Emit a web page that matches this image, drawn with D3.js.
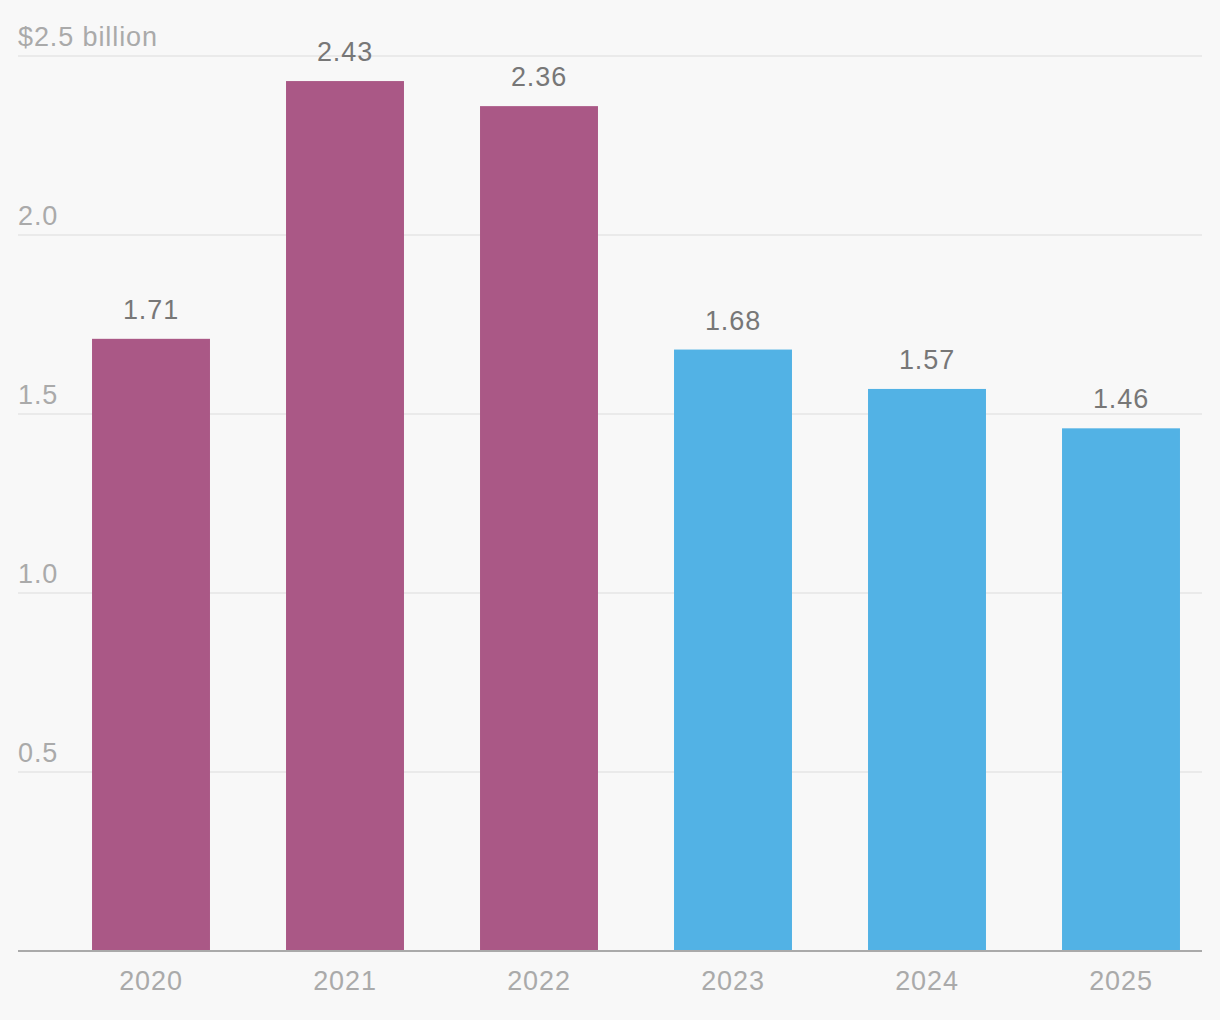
<!DOCTYPE html>
<meta charset="utf-8">
<script src="https://d3js.org/d3.v7.min.js"></script>
<style>
  body { margin: 0; background: #f8f8f8; }
  text { font-family: "Liberation Sans", Arial, sans-serif; letter-spacing: 0.9px; }
</style>
<body>
  <div id="chart"></div>
</body>
<script>
  var years = ["2020", "2021", "2022", "2023", "2024", "2025"]
  var values = [1.71, 2.43, 2.36, 1.68, 1.57, 1.46]
  var barColors = ["#aa5886", "#aa5886", "#aa5886", "#52b2e5", "#52b2e5", "#52b2e5"]
  var yTicks = [0.5, 1.0, 1.5, 2.0, 2.5]
  var yTickLabels = ["0.5", "1.0", "1.5", "2.0", "$2.5 billion"]

  var width = 1220, height = 1020
  var m = {left: 18, right: 1202, bottom: 951, top: 56}

  const svg = d3.select("#chart")
    .append("svg")
      .attr("width", width)
      .attr("height", height)

  const x = d3.scaleBand()
    .domain(years)
    .range([54, 1218])
    .paddingInner(0.392)
    .paddingOuter(0.196)

  const y = d3.scaleLinear()
    .domain([0, 2.5])
    .range([m.bottom, m.top])

  // gridlines + tick labels
  svg.selectAll(".grid")
    .data(yTicks)
    .join("line")
      .attr("class", "grid")
      .attr("x1", m.left)
      .attr("x2", m.right)
      .attr("y1", d => y(d))
      .attr("y2", d => y(d))
      .style("stroke", "#e6e6e6")
      .style("stroke-width", 1.5)

  svg.selectAll(".ytick")
    .data(yTicks)
    .join("text")
      .attr("class", "ytick")
      .attr("x", m.left)
      .attr("y", d => y(d) - 10)
      .text((d, i) => yTickLabels[i])
      .style("fill", "#aaaaaa")
      .style("font-size", "27px")

  svg.selectAll(".bar")
    .data(values)
    .join("rect")
      .attr("class", "bar")
      .attr("x", (d, i) => x(years[i]))
      .attr("width", x.bandwidth())
      .attr("y", d => y(d))
      .attr("height", d => y(0) - y(d))
      .style("fill", (d, i) => barColors[i])

  svg.selectAll(".val")
    .data(values)
    .join("text")
      .attr("class", "val")
      .attr("x", (d, i) => x(years[i]) + x.bandwidth() / 2)
      .attr("y", d => y(d) - 20)
      .attr("text-anchor", "middle")
      .text(d => d.toFixed(2))
      .style("fill", "#777777")
      .style("font-size", "27px")

  // baseline
  svg.append("line")
    .attr("x1", m.left)
    .attr("x2", m.right)
    .attr("y1", y(0))
    .attr("y2", y(0))
    .style("stroke", "#aaaaaa")
    .style("stroke-width", 2)

  svg.selectAll(".xlab")
    .data(years)
    .join("text")
      .attr("class", "xlab")
      .attr("x", d => x(d) + x.bandwidth() / 2)
      .attr("y", 990)
      .attr("text-anchor", "middle")
      .text(d => d)
      .style("fill", "#aaaaaa")
      .style("font-size", "27px")
</script>
